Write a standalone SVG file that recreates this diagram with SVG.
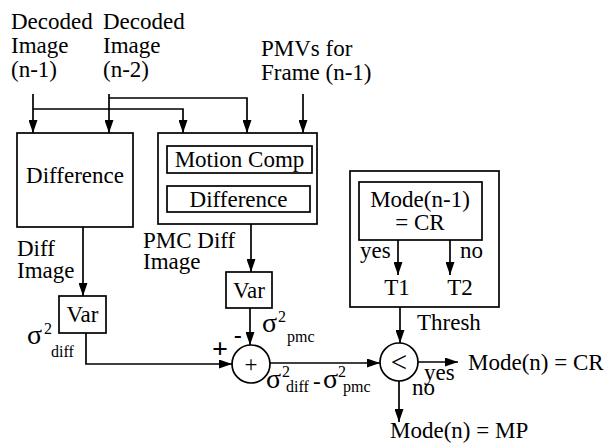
<svg xmlns="http://www.w3.org/2000/svg" width="610" height="443" viewBox="0 0 610 443" font-family="'Liberation Serif', 'DejaVu Serif', serif">
<style>
text{font-family:'Liberation Serif','DejaVu Serif',serif;font-size:23px;fill:#000}
.m{text-anchor:middle}
.s{font-size:16px}
.g{font-size:28px}
.box{fill:none;stroke:#000;stroke-width:1.7}
.ln{fill:none;stroke:#000;stroke-width:1.7}
.b{font-weight:bold}
</style>
<defs>
<marker id="ah" markerUnits="userSpaceOnUse" markerWidth="13" markerHeight="9" refX="13" refY="4.5" orient="auto">
<path d="M0,0 L13,4.5 L0,9 Z" fill="#000"/>
</marker>
</defs>
<rect width="610" height="443" fill="#fff"/>

<g id="inputs">
<text x="11" y="29">Decoded</text>
<text x="11" y="53">Image</text>
<text x="11" y="77">(n-1)</text>
<text x="103" y="29">Decoded</text>
<text x="103" y="53">Image</text>
<text x="103" y="77">(n-2)</text>
<text x="261" y="56">PMVs for</text>
<text x="261" y="80">Frame (n-1)</text>
</g>

<g id="diff-box">
<rect class="box" x="17" y="133" width="116" height="94"/>
<text class="m" x="75" y="183">Difference</text>
</g>

<g id="pmc-box">
<rect class="box" x="158" y="133" width="159" height="91"/>
<rect class="box" x="167" y="146" width="145" height="27"/>
<text class="m" x="239.5" y="167">Motion Comp</text>
<rect class="box" x="167" y="186" width="143" height="26"/>
<text class="m" x="238.5" y="207">Difference</text>
</g>

<g id="var-diff">
<rect class="box" x="59" y="296" width="47" height="37"/>
<text class="m" x="82.5" y="322">Var</text>
</g>

<g id="var-pmc">
<rect class="box" x="226" y="272" width="46" height="36"/>
<text class="m" x="249" y="298">Var</text>
</g>

<g id="thresh-box">
<rect class="box" x="350" y="171" width="149" height="136"/>
<rect class="box" x="359" y="182" width="123" height="58"/>
<text class="m" x="420" y="207">Mode(n-1)</text>
<text class="m" x="420" y="230">= CR</text>
<line class="ln" x1="398" y1="240" x2="398" y2="275" marker-end="url(#ah)"/>
<line class="ln" x1="450" y1="240" x2="450" y2="275" marker-end="url(#ah)"/>
<text x="360" y="258">yes</text>
<text x="460" y="258">no</text>
<text class="m" x="397" y="295">T1</text>
<text class="m" x="460" y="295">T2</text>
</g>

<g id="sum">
<circle cx="251" cy="364" r="19" fill="#fff" stroke="#000" stroke-width="1.7"/>
<text class="m" x="251" y="372">+</text>
</g>

<g id="compare">
<circle cx="399" cy="362" r="19" fill="#fff" stroke="#000" stroke-width="1.7"/>
<text class="m" x="399" y="372" style="font-size:29px">&lt;</text>
</g>

<g id="connectors">
<polyline class="ln" points="33,94 33,133" marker-end="url(#ah)"/>
<polyline class="ln" points="33,109 183,109 183,133" marker-end="url(#ah)"/>
<polyline class="ln" points="109,94 109,133" marker-end="url(#ah)"/>
<polyline class="ln" points="109,98 247,98 247,133" marker-end="url(#ah)"/>
<polyline class="ln" points="303,94 303,133" marker-end="url(#ah)"/>
<polyline class="ln" points="83,227 83,296" marker-end="url(#ah)"/>
<polyline class="ln" points="251,224 251,272" marker-end="url(#ah)"/>
<polyline class="ln" points="86,333 86,364 232,364" marker-end="url(#ah)"/>
<polyline class="ln" points="250,308 250,345" marker-end="url(#ah)"/>
<polyline class="ln" points="270,363 380,363" marker-end="url(#ah)"/>
<polyline class="ln" points="400,307 400,343" marker-end="url(#ah)"/>
<polyline class="ln" points="418,362 458,362" marker-end="url(#ah)"/>
<polyline class="ln" points="399,381 399,422" marker-end="url(#ah)"/>
</g>

<g id="labels">
<text x="17" y="256">Diff</text>
<text x="17" y="278">Image</text>
<text x="143" y="248">PMC Diff</text>
<text x="143" y="269">Image</text>
<text class="g" x="27" y="344">σ</text><text class="s" x="44" y="334">2</text><text class="s" x="51" y="357">diff</text>
<text class="g" x="262" y="332">σ</text><text class="s" x="278" y="322">2</text><text class="s" x="287" y="342">pmc</text>
<text class="b" x="212" y="358" style="font-size:28px">+</text>
<text class="b" x="234" y="343">-</text>
<text class="g" x="266" y="388">σ</text><text class="s" x="282" y="377">2</text><text class="s" x="286" y="392">diff</text>
<text x="313" y="389">-</text>
<text class="g" x="323" y="388">σ</text><text class="s" x="338" y="377">2</text><text class="s" x="343" y="392">pmc</text>
<text x="417" y="330">Thresh</text>
<text x="468" y="370">Mode(n) = CR</text>
<text x="424" y="380">yes</text>
<text x="412" y="395">no</text>
<text x="390" y="438">Mode(n) = MP</text>
</g>
</svg>
